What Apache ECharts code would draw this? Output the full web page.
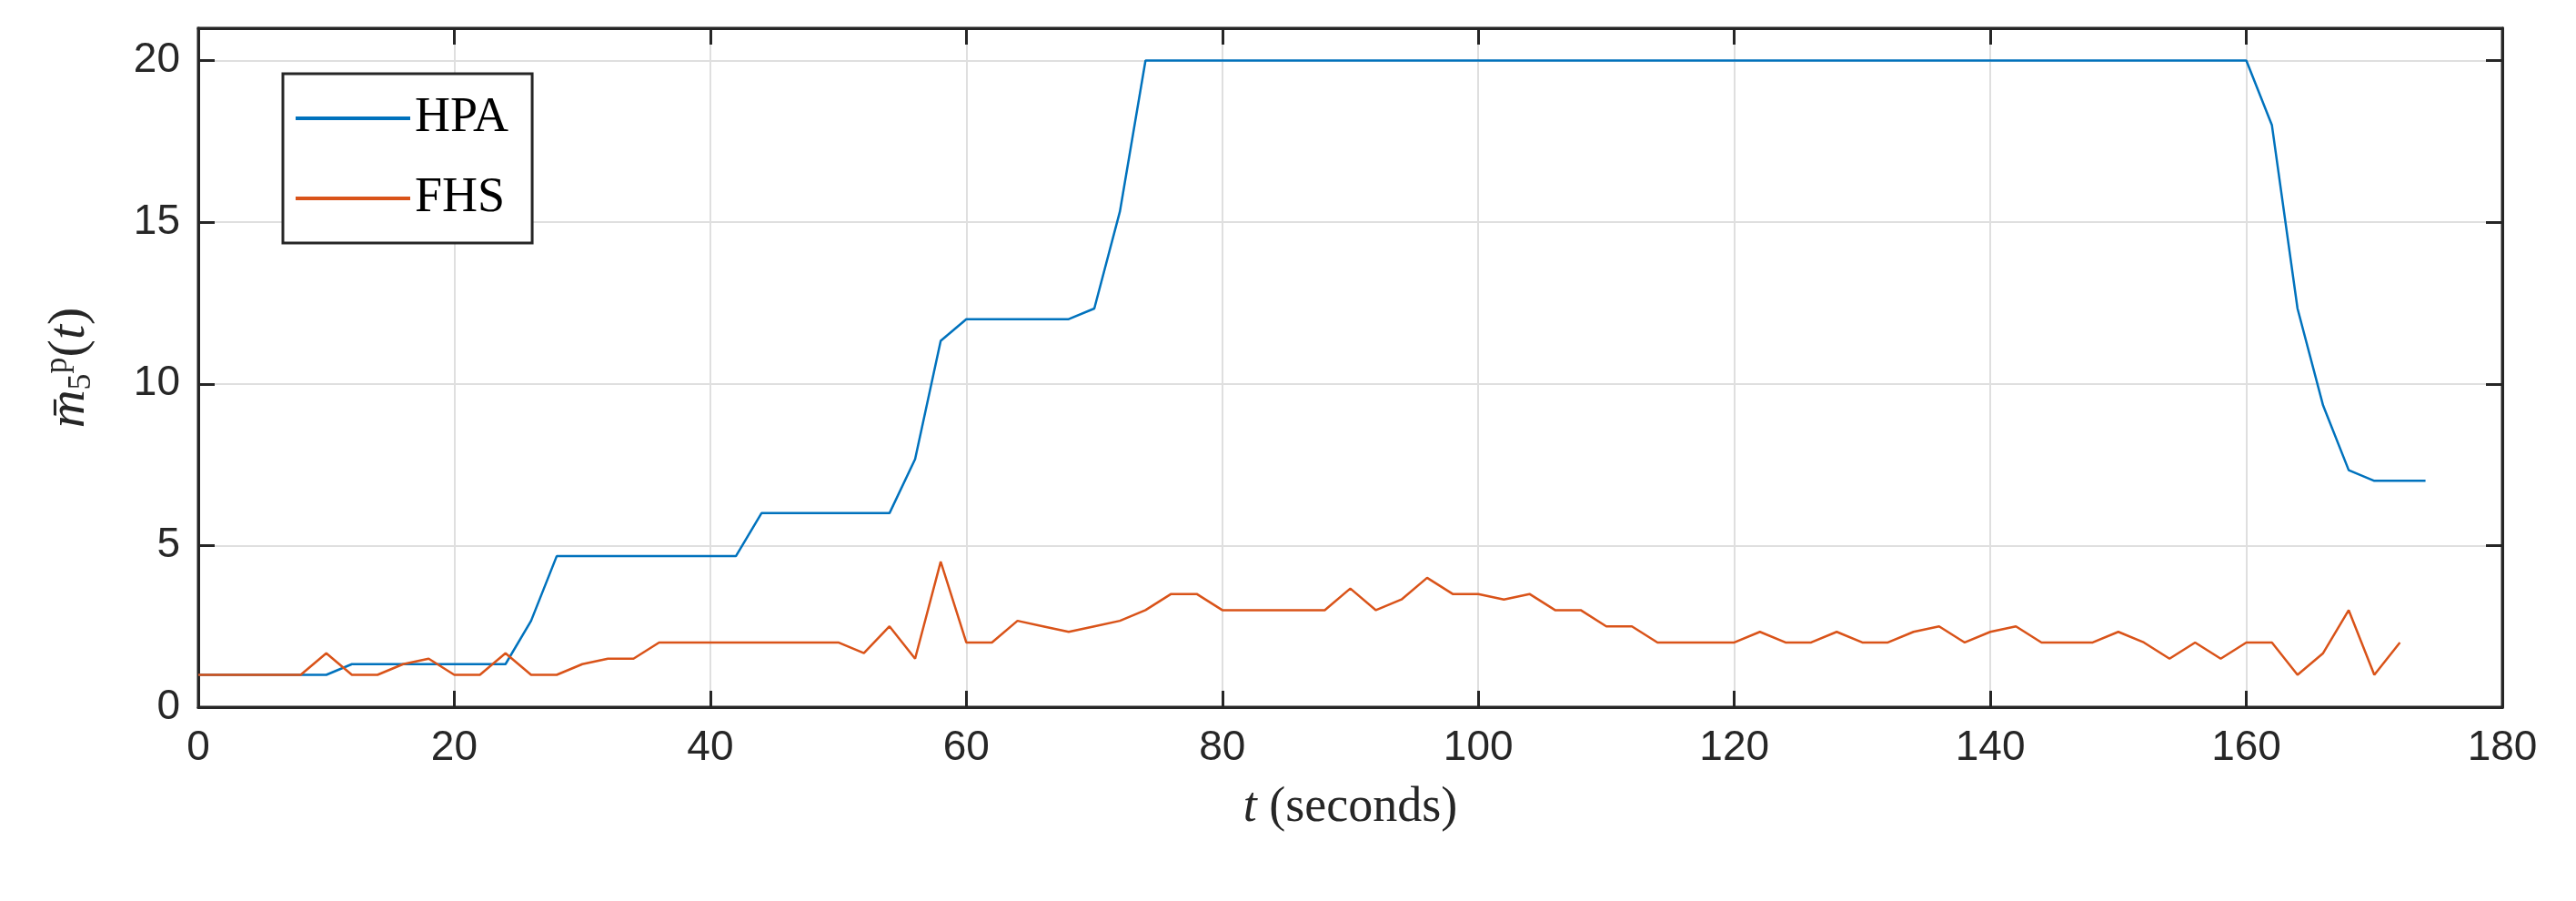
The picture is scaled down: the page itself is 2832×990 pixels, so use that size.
<!DOCTYPE html>
<html lang="en">
<head>
  <meta charset="UTF-8">
  <title>HPA vs FHS</title>
  <script src="https://cdn.jsdelivr.net/npm/echarts@6/dist/echarts.min.js"></script>
</head>
<body style="margin:0">
<div id="chart" style="width:2832px;height:990px;background:#fff"></div>
<script>
  // sample times (seconds)
  const timeHPA = [0,2,4,6,8,10,12,14,16,18,20,22,24,26,28,30,32,34,36,38,40,42,44,46,48,50,52,54,56,58,
    60,62,64,66,68,70,72,74,76,78,80,82,84,86,88,90,92,94,96,98,100,102,104,106,108,110,112,114,116,118,
    120,122,124,126,128,130,132,134,136,138,140,142,144,146,148,150,152,154,156,158,160,162,164,166,168,170,172,174];
  const hpa = [1,1,1,1,1,1, 1.33,1.33,1.33,1.33,1.33,1.33,1.33, 2.67,
    4.67,4.67,4.67,4.67,4.67,4.67,4.67,4.67, 6,6,6,6,6,6, 7.67,11.33, 12,12,12,12,12, 12.33,15.33,
    20,20,20,20,20,20,20,20,20,20,20,
    20,20,20,20,20,20,20,20,20,20,20,
    20,20,20,20,20,20,20,20,20,20,20,
    20,20,20,20,20,20,20,20,20,20,20,
    18,12.33,9.33,7.33,7,7,7];
  const timeFHS = timeHPA.slice(0, 87);
  const fhs = [1,1,1,1,1, 1.67,1,1,1.33,1.5,1,1,1.67,1,1,1.33,1.5,1.5,
    2,2,2,2,2,2,2,2, 1.67,2.5,1.5,4.5,2,2,2.67,2.5,2.33,2.5,2.67,3,3.5,3.5,
    3,3,3,3,3, 3.67,3,3.33,4,3.5,3.5,3.33,3.5,3,3,2.5,2.5, 2,2,2,2,
    2.33,2,2,2.33,2,2,2.33,2.5,2,2.33,2.5,2,2,2,2.33,2,1.5,2,1.5,2,2,1,1.67,3,1,2];

  const pair = (t, v) => t.map((x, i) => [x, v[i]]);
  const axisFont = { fontFamily: 'Liberation Sans', fontSize: 46, color: '#262626' };
  const boxLine = { show: true, onZero: false, lineStyle: { color: '#262626', width: 3 } };
  const tick = { show: true, inside: true, length: 18, lineStyle: { color: '#262626', width: 3 } };

  const chart = echarts.init(document.getElementById('chart'));
  chart.setOption({
    animation: false,
    grid: { left: 218, right: 81, top: 31, bottom: 213, show: true, borderColor: '#262626', borderWidth: 3 },
    legend: {
      left: 311, top: 81, orient: 'vertical',
      padding: [22, 26, 22, 14], itemGap: 34,
      borderColor: '#262626', borderWidth: 3, backgroundColor: '#fff',
      itemWidth: 126, itemHeight: 4, icon: 'rect',
      textStyle: { fontFamily: 'Liberation Serif', fontSize: 54, color: '#000' },
      data: ['HPA', 'FHS']
    },
    xAxis: [{
      type: 'value', min: 0, max: 180, interval: 20,
      name: '{i|t} (seconds)', nameLocation: 'middle', nameGap: 84,
      nameTextStyle: { fontFamily: 'Liberation Serif', fontSize: 54, color: '#262626',
        rich: { i: { fontStyle: 'italic', fontFamily: 'Liberation Serif', fontSize: 54 } } },
      axisLine: boxLine, axisTick: tick,
      axisLabel: Object.assign({ margin: 22 }, axisFont),
      splitLine: { lineStyle: { color: '#dfdfdf', width: 2 } }
    }, {
      type: 'value', min: 0, max: 180, interval: 20, position: 'top',
      axisLine: boxLine, axisLabel: { show: false }, axisTick: tick,
      splitLine: { show: false }
    }],
    yAxis: [{
      type: 'value', min: 0, max: 21, interval: 5,
      name: '{i|m̄}{sub|5}{sup|p}{n|(}{i|t}{n|)}', nameLocation: 'middle', nameGap: 110,
      nameTextStyle: { fontFamily: 'Liberation Serif', color: '#262626',
        rich: {
          i: { fontStyle: 'italic', fontFamily: 'Liberation Serif', fontSize: 58 },
          n: { fontFamily: 'Liberation Serif', fontSize: 58 },
          sub: { fontFamily: 'Liberation Serif', fontSize: 36, padding: [26, 0, 0, 0] },
          sup: { fontFamily: 'Liberation Serif', fontSize: 36, padding: [0, 0, 26, 0] }
        } },
      axisLine: boxLine, axisTick: tick,
      axisLabel: Object.assign({ margin: 20, showMaxLabel: false }, axisFont),
      splitLine: { lineStyle: { color: '#dfdfdf', width: 2 } }
    }, {
      type: 'value', min: 0, max: 21, interval: 5, position: 'right',
      axisLine: boxLine, axisLabel: { show: false }, axisTick: tick,
      splitLine: { show: false }
    }],
    series: [{
      name: 'HPA', type: 'line', showSymbol: false, symbol: 'none',
      lineStyle: { color: '#0072BD', width: 2.5 }, itemStyle: { color: '#0072BD' },
      data: pair(timeHPA, hpa)
    }, {
      name: 'FHS', type: 'line', showSymbol: false, symbol: 'none',
      lineStyle: { color: '#D95319', width: 2.5 }, itemStyle: { color: '#D95319' },
      data: pair(timeFHS, fhs)
    }, {
      name: 'frame', type: 'line', xAxisIndex: 1, yAxisIndex: 1, data: [], silent: true
    }]
  });
</script>
</body>
</html>
